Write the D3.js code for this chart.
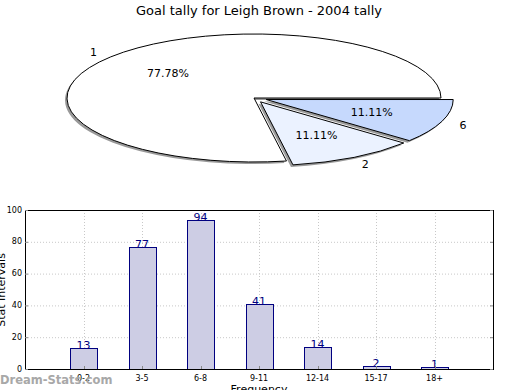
<!DOCTYPE html>
<html><head><meta charset="utf-8">
<script src="https://cdn.jsdelivr.net/npm/d3@7"></script>
<style>body{margin:0;background:#fff}svg{display:block}text{font-family:"DejaVu Sans",sans-serif}</style>
</head><body>
<svg id="c" width="520" height="390"></svg>
<script>
const title = "Goal tally for Leigh Brown - 2004 tally";
const sliceLabels = ["1", "2", "6"];
const sliceValues = [7, 1, 1];
const sliceColors = ["#ffffff", "#ebf2ff", "#c6d9fd"];
const sliceExplode = [0, 13, 13];

const categories = ["0-2", "3-5", "6-8", "9-11", "12-14", "15-17", "18+"];
const counts = [13, 77, 94, 41, 14, 2, 1];
const yTicks = [0, 20, 40, 60, 80, 100];

const svg = d3.select("#c");
svg.append("text").attr("x", 259).attr("y", 10).attr("text-anchor", "middle")
  .attr("dominant-baseline", "central").attr("font-size", 13).text(title);

// ---- Pie ----
const cx = 254, cy = 98, rx = 187, ry = 64, ratio = ry / rx;
const pie = d3.pie().sort(null).startAngle(Math.PI / 2).endAngle(Math.PI / 2 - 2 * Math.PI);
const arcs = pie(sliceValues);
const arc = d3.arc().innerRadius(0).outerRadius(rx);
const total = d3.sum(sliceValues);

function off(d, i) {
  const m = (d.startAngle + d.endAngle) / 2;
  return [Math.sin(m) * sliceExplode[i], -Math.cos(m) * sliceExplode[i]];
}

const sh = svg.append("g").attr("transform", `translate(${cx - 2},${cy + 2}) scale(1,${ratio})`);
arcs.forEach((d, i) => {
  const o = off(d, i);
  sh.append("path").attr("d", arc(d)).attr("transform", `translate(${o[0]},${o[1]})`)
    .attr("fill", "#999");
});
const pg = svg.append("g").attr("transform", `translate(${cx},${cy}) scale(1,${ratio})`);
arcs.forEach((d, i) => {
  const o = off(d, i);
  pg.append("path").attr("d", arc(d)).attr("transform", `translate(${o[0]},${o[1]})`)
    .attr("fill", sliceColors[i]).attr("stroke", "#000").attr("stroke-width", 1)
    .attr("vector-effect", "non-scaling-stroke");
});
arcs.forEach((d, i) => {
  const o = off(d, i);
  const m = (d.startAngle + d.endAngle) / 2;
  const px = f => cx + o[0] + Math.sin(m) * rx * f;
  const py = f => cy + (o[1] - Math.cos(m) * rx * f) * ratio;
  svg.append("text").attr("x", px(0.6)).attr("y", py(0.6)).attr("text-anchor", "middle")
    .attr("dominant-baseline", "central").attr("font-size", 11)
    .text((sliceValues[i] / total * 100).toFixed(2) + "%");
  svg.append("text").attr("x", px(1.12)).attr("y", py(1.12) + 1).attr("text-anchor", "middle")
    .attr("dominant-baseline", "central").attr("font-size", 11).text(sliceLabels[i]);
});

// ---- Bars ----
const L = 25, R = 493, T = 210, B = 369;
const x = d3.scaleLinear().domain([0, categories.length + 1]).range([L, R]);
const y = d3.scaleLinear().domain([0, 100]).range([B, T]);
const g = svg.append("g");
g.selectAll(".hg").data(yTicks.slice(1, -1)).join("line")
  .attr("x1", L).attr("x2", R).attr("y1", d => y(d) + 0.5).attr("y2", d => y(d) + 0.5)
  .attr("stroke", "#c8c8c8").attr("stroke-dasharray", "1,2");
g.selectAll(".vg").data(categories).join("line")
  .attr("x1", (d, i) => Math.round(x(i + 1)) + 0.5).attr("x2", (d, i) => Math.round(x(i + 1)) + 0.5)
  .attr("y1", T).attr("y2", B).attr("stroke", "#c8c8c8").attr("stroke-dasharray", "1,2");
const bw = 27;
g.selectAll(".bar").data(counts).join("rect")
  .attr("x", (d, i) => Math.round(x(i + 1) - bw / 2) + 0.5).attr("width", bw)
  .attr("y", d => Math.round(y(d)) + 0.5).attr("height", d => B - Math.round(y(d)))
  .attr("fill", "#cdcde4").attr("stroke", "#000080").attr("stroke-width", 1);
g.selectAll(".vl").data(counts).join("text")
  .attr("x", (d, i) => x(i + 1)).attr("y", d => y(d) + 1).attr("text-anchor", "middle")
  .attr("font-size", 11).attr("fill", "#000080").text(d => d);
g.append("rect").attr("x", L + 0.5).attr("y", T + 0.5).attr("width", R - L).attr("height", B - T)
  .attr("fill", "none").attr("stroke", "#000");
g.selectAll(".yt").data(yTicks).join("line")
  .attr("x1", L).attr("x2", L + 3).attr("y1", d => y(d) + 0.5).attr("y2", d => y(d) + 0.5).attr("stroke", "#888");
g.selectAll(".yt2").data(yTicks).join("line")
  .attr("x1", R - 3).attr("x2", R).attr("y1", d => y(d) + 0.5).attr("y2", d => y(d) + 0.5).attr("stroke", "#888");
g.selectAll(".ytl").data(yTicks).join("text")
  .attr("x", L - 3).attr("y", d => y(d)).attr("text-anchor", "end").attr("dominant-baseline", "central")
  .attr("font-size", 8).text(d => d);
g.selectAll(".xt").data(categories).join("line")
  .attr("x1", (d, i) => Math.round(x(i + 1)) + 0.5).attr("x2", (d, i) => Math.round(x(i + 1)) + 0.5)
  .attr("y1", B - 3).attr("y2", B).attr("stroke", "#888");
g.selectAll(".xtl").data(categories).join("text")
  .attr("x", (d, i) => x(i + 1)).attr("y", 378).attr("text-anchor", "middle").attr("dominant-baseline", "central")
  .attr("font-size", 8).text(d => d);
svg.append("text").attr("x", 259).attr("y", 389).attr("text-anchor", "middle").attr("dominant-baseline", "central")
  .attr("font-size", 11).text("Frequency");
svg.append("text").attr("transform", "translate(1,290) rotate(-90)").attr("text-anchor", "middle")
  .attr("dominant-baseline", "central").attr("font-size", 11).text("Stat Intervals");
svg.append("text").attr("x", 0).attr("y", 380).attr("dominant-baseline", "central")
  .attr("font-size", 11.5).attr("font-weight", "bold").attr("fill", "#a8a8a8").text("Dream-Stats.com");
</script>
</body></html>
